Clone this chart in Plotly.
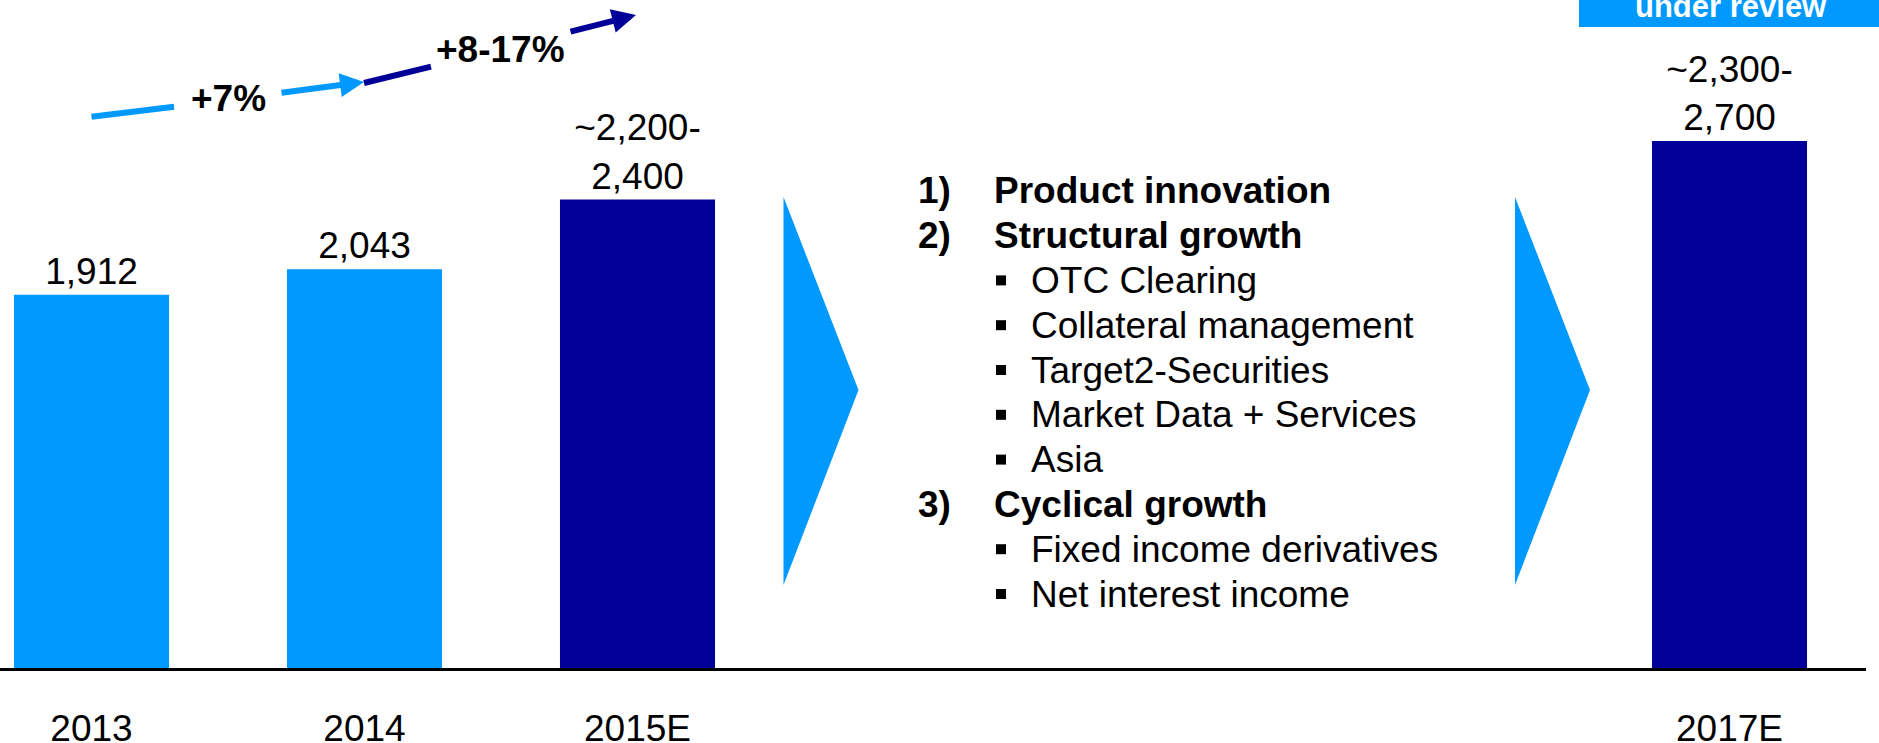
import plotly.graph_objects as go

# ---- data ----
categories = ["2013", "2014", "2015E", "2017E"]
values = [1912, 2043, 2400, 2700]          # bar heights (upper end for ranges)
value_labels = ["1,912", "2,043", "~2,200-<br>2,400", "~2,300-<br>2,700"]
is_estimate = [False, False, True, True]
growth_labels = ["+7%", "+8-17%"]
drivers = [
    ("1)", "Product innovation", 0),
    ("2)", "Structural growth", 0),
    ("", "OTC Clearing", 1),
    ("", "Collateral management", 1),
    ("", "Target2-Securities", 1),
    ("", "Market Data + Services", 1),
    ("", "Asia", 1),
    ("3)", "Cyclical growth", 0),
    ("", "Fixed income derivatives", 1),
    ("", "Net interest income", 1),
]
banner_text = "under review"

LIGHT = "#0099FF"
DARK = "#000099"
FONT = "Arial, Liberation Sans, sans-serif"

W, H = 1879, 743
ML, MR, MT, MB = 0, 13, 0, 75
PW, PH = W - ML - MR, H - MT - MB

def px(x):
    return x / PW

def py(y):
    return 1 - y / PH

# slot positions: three consecutive years, gap, then 2017E
positions = list(range(3)) + [6]

fig = go.Figure()
fig.add_trace(go.Bar(
    x=positions, y=values,
    width=0.568,
    marker=dict(color=[DARK if e else LIGHT for e in is_estimate], line=dict(width=0)),
    text=value_labels, textposition="outside",
    textfont=dict(family=FONT, size=37, color="black"),
    cliponaxis=False, hoverinfo="skip",
))

shapes = []
annotations = []

def note(x, y, text, size=37, color="black", xanchor="center", yanchor="middle"):
    annotations.append(dict(xref="paper", yref="paper", x=px(x), y=py(y),
                            xanchor=xanchor, yanchor=yanchor, text=text, showarrow=False,
                            font=dict(family=FONT, size=size, color=color)))

# chevrons
for x0 in (783.5, 1515):
    shapes.append(dict(
        type="path", xref="paper", yref="paper",
        path=f"M {px(x0)},{py(197)} L {px(x0+75)},{py(390)} L {px(x0)},{py(585)} Z",
        fillcolor=LIGHT, line=dict(width=0)))

# growth arrows
shapes.append(dict(type="line", xref="paper", yref="paper",
                   x0=px(91.5), y0=py(116.7), x1=px(174), y1=py(106.7),
                   line=dict(color=LIGHT, width=6)))
annotations.append(dict(xref="paper", yref="paper", x=px(364), y=py(82), ax=-84, ay=11,
                        text="", showarrow=True, arrowhead=2, arrowsize=0.8,
                        arrowwidth=6, arrowcolor=LIGHT, standoff=0))
shapes.append(dict(type="line", xref="paper", yref="paper",
                   x0=px(364), y0=py(83), x1=px(431), y1=py(66.7),
                   line=dict(color=DARK, width=6)))
annotations.append(dict(xref="paper", yref="paper", x=px(636), y=py(15), ax=-67, ay=17,
                        text="", showarrow=True, arrowhead=2, arrowsize=0.8,
                        arrowwidth=6, arrowcolor=DARK, standoff=0))
note(228, 98, f"<b>{growth_labels[0]}</b>")
note(500, 50, f"<b>{growth_labels[1]}</b>")

# banner
shapes.append(dict(type="rect", xref="paper", yref="paper",
                   x0=px(1579), x1=px(1879), y0=py(27), y1=py(0),
                   fillcolor=LIGHT, line=dict(width=0)))
note(1731, 26, f"<b>{banner_text}</b>", size=31, color="white", yanchor="bottom")

# driver list
y0, dy = 190.8, 44.8
for i, (num, txt, level) in enumerate(drivers):
    yy = y0 + i * dy
    if level == 0:
        note(916, yy, f"<b>{num}</b>", xanchor="left")
        note(992, yy, f"<b>{txt}</b>", xanchor="left")
    else:
        shapes.append(dict(type="rect", xref="paper", yref="paper",
                           x0=px(996), x1=px(1006), y0=py(yy + 5), y1=py(yy - 5),
                           fillcolor="black", line=dict(width=0)))
        note(1029, yy, txt, xanchor="left")

fig.update_layout(
    width=W, height=H,
    margin=dict(l=ML, r=MR, t=MT, b=MB, pad=0, autoexpand=False),
    paper_bgcolor="white", plot_bgcolor="white",
    showlegend=False,
    shapes=shapes, annotations=annotations,
    xaxis=dict(range=[-0.3352, 6.5], tickvals=positions, ticktext=categories,
               showgrid=False, zeroline=False, showline=True, linecolor="black",
               linewidth=3, ticks="", ticklabelstandoff=26, automargin=False,
               tickfont=dict(family=FONT, size=37, color="black")),
    yaxis=dict(range=[0, PH / 0.1952], visible=False, showgrid=False, zeroline=False,
               automargin=False),
)

fig.write_html("out.html", config={"displayModeBar": False},
               post_script="document.body.style.margin='0';document.body.style.overflow='hidden';")
